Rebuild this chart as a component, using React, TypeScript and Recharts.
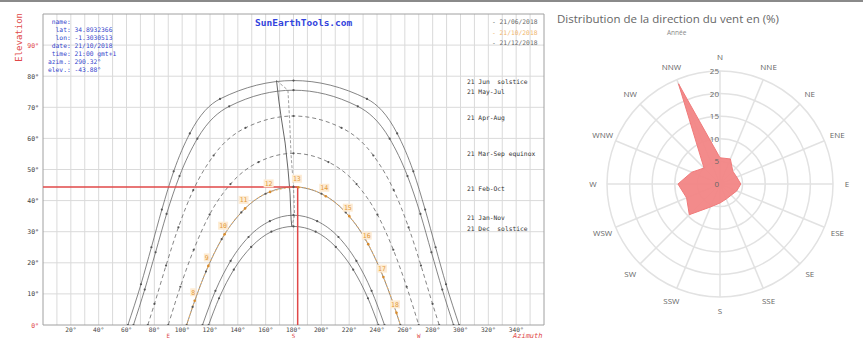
import React from 'react';
import {
  LineChart,
  Line,
  XAxis,
  YAxis,
  CartesianGrid,
  ReferenceLine,
  ReferenceArea,
  RadarChart,
  Radar,
  PolarGrid,
  PolarAngleAxis,
  PolarRadiusAxis,
} from 'recharts';

type Pt = [number, number]; // [azimuth°, elevation°]

// sun paths
const junSolstice: Pt[] = [[61.0, 0], [70.4, 13.1], [77.9, 25.0], [85.4, 37.1], [93.9, 49.4], [105.5, 61.6], [127.2, 72.7], [180, 78.6], [232.8, 72.7], [254.5, 61.6], [266.1, 49.4], [274.6, 37.1], [282.1, 25.0], [289.6, 13.1], [299.0, 0]];
const mayJul: Pt[] = [[65.0, 0], [73.1, 11.4], [80.9, 23.4], [88.8, 35.7], [98.1, 47.9], [110.9, 59.9], [133.8, 70.3], [180, 75.5], [226.2, 70.3], [249.1, 59.9], [261.9, 47.9], [271.2, 35.7], [279.1, 23.4], [286.9, 11.4], [295.0, 0]];
const aprAug: Pt[] = [[75.3, 0], [80.1, 6.8], [88.4, 19.1], [97.3, 31.4], [108.0, 43.4], [122.6, 54.5], [145.5, 63.4], [180, 67.2], [214.5, 63.4], [237.4, 54.5], [252.0, 43.4], [262.7, 31.4], [271.6, 19.1], [279.9, 6.8], [284.7, 0]];
const marSep: Pt[] = [[90, 0], [98.7, 12.3], [108.3, 24.2], [119.7, 35.5], [134.7, 45.3], [154.9, 52.4], [180, 55.2], [205.1, 52.4], [225.3, 45.3], [240.3, 35.5], [251.7, 24.2], [261.3, 12.3], [270, 0]];
const febOct: Pt[] = [[103.2, 0], [107.5, 5.8], [117.1, 17.2], [128.4, 27.6], [142.5, 36.2], [159.9, 42.2], [180, 44.4], [200.1, 42.2], [217.5, 36.2], [231.6, 27.6], [242.9, 17.2], [252.5, 5.8], [256.8, 0]];
const janNov: Pt[] = [[114.6, 0], [123.9, 11.0], [134.8, 20.6], [147.7, 28.3], [163.0, 33.4], [180, 35.3], [197.0, 33.4], [212.3, 28.3], [225.2, 20.6], [236.1, 11.0], [245.4, 0]];
const decSolstice: Pt[] = [[119.0, 0], [126.5, 8.6], [137.1, 17.8], [149.6, 25.1], [164.1, 30.0], [180, 31.7], [195.9, 30.0], [210.4, 25.1], [222.9, 17.8], [233.5, 8.6], [241.0, 0]];

// hour line (analemma loop) near midday
const hourLineA: Pt[] = [[167.8, 78.6], [169.5, 72.0], [171.1, 66.9], [174.0, 58.5], [176.1, 49.8], [177.5, 42.4], [178.3, 33.8], [178.8, 31.7]];
const hourLineB: Pt[] = [[167.8, 78.6], [176.0, 75.5], [177.2, 66.0], [178.2, 55.0], [180.0, 44.4], [180.8, 35.3], [178.8, 31.7]];

// selected day, with clock hours
const todayPath: Pt[] = [[103.2, 0], [109.0, 7.8], [118.8, 19.0], [130.5, 29.2], [145.2, 37.5], [163.2, 42.8], [183.5, 44.3], [203.2, 41.4], [220.1, 35.0], [233.7, 26.0], [244.6, 15.4], [254.0, 3.9], [256.8, 0]];
const todayHours = [null, 8, 9, 10, 11, 12, 13, 14, 15, 16, 17, 18, null];
const sunMarker = { az: 183, el: 44.4 };

const azTicks = [20, 40, 60, 80, 90, 100, 120, 140, 160, 180, 200, 220, 240, 260, 270, 280, 300, 320, 340];
const compass: Record<number, string> = { 90: 'E', 180: 'S', 270: 'W' };
const elTicks = [0, 10, 20, 30, 40, 50, 60, 70, 80, 90];
const gridAz = [10, 20, 30, 40, 50, 60, 70, 80, 90, 100, 110, 120, 130, 140, 150, 160, 170, 180, 190, 200, 210, 220, 230, 240, 250, 260, 270, 280, 290, 300, 310, 320, 330, 340, 350];
const gridEl = [10, 20, 30, 40, 50, 60, 70, 80, 90];

const dateLabels = ['21 Jun  solstice', '21 May-Jul', '21 Apr-Aug', '21 Mar-Sep equinox', '21 Feb-Oct', '21 Jan-Nov', '21 Dec  solstice'];
const dateLabelTop = [78, 88, 114, 150, 185, 214, 225];
const legendDates = ['- 21/06/2018', '- 21/10/2018', '- 21/12/2018'];
const infoLines = [' name:', '  lat: 34.8932366', '  lon: -1.3030513', ' date: 21/10/2018', ' time: 21:00 gmt+1', 'azim.: 290.32°', 'elev.: -43.88°'];

// wind rose
const windDirs = ['N', 'NNE', 'NE', 'ENE', 'E', 'ESE', 'SE', 'SSE', 'S', 'SSW', 'SW', 'WSW', 'W', 'WNW', 'NW', 'NNW'];
const windShare = [5.8, 6.0, 4.0, 4.0, 4.6, 4.0, 3.5, 3.6, 4.2, 5.5, 9.6, 8.0, 9.3, 6.8, 5.0, 24.0];

const rows = (pts: Pt[]) => pts.map(([az, el]) => ({ az, el }));
const windRows = windDirs.map((dir, i) => ({ dir, pct: windShare[i] }));
const todayRows = todayPath.map(([az, el], i) => ({ az, el, h: todayHours[i] }));

const mono = '"DejaVu Sans Mono", monospace';
const RED = '#e04848';
const ROSE_CX = 150;
const ROSE_CY = 144;

function PathDot(props: any) {
  const { cx, cy, index } = props;
  if (cx == null || cy == null) return <g key={index} />;
  return <circle key={index} cx={cx} cy={cy} r={1.1} fill="#555" />;
}

function HourDot(props: any) {
  const { cx, cy, index, payload } = props;
  if (cx == null || payload?.h == null) return <g key={index} />;
  const w = payload.h >= 10 ? 10 : 6;
  return (
    <g key={index}>
      <rect x={cx - 1.5 - w / 2} y={cy - 12.5} width={w} height={8} fill="#fdebd3" />
      <text x={cx - 1.5} y={cy - 6.2} fontSize={6.5} fontFamily={mono} fill="#e39a3a" textAnchor="middle">
        {payload.h}
      </text>
      <circle cx={cx} cy={cy} r={1.3} fill="#d98b2b" />
    </g>
  );
}

function AzTick({ x, y, payload }: any) {
  const v = payload.value;
  return (
    <g>
      {v % 20 === 0 && (
        <text x={x} y={y + 6.8} fontSize={6.2} fontFamily={mono} fill="#444" textAnchor="middle">{`${v}°`}</text>
      )}
      {compass[v] && (
        <text x={x} y={y + 12.6} fontSize={5.8} fontFamily={mono} fill={RED} textAnchor="middle">{compass[v]}</text>
      )}
    </g>
  );
}

function ElTick({ x, y, payload }: any) {
  const v = payload.value;
  return (
    <text x={x - 4} y={y + 2.5} fontSize={6.5} fontFamily={mono} fill={v === 0 || v === 90 ? RED : '#444'} textAnchor="end">
      {`${v}°`}
    </text>
  );
}

function DirTick({ x, y, payload }: any) {
  const a = Math.atan2(y - ROSE_CY, x - ROSE_CX);
  const R = 127;
  return (
    <text
      x={ROSE_CX + R * Math.cos(a)}
      y={ROSE_CY + R * Math.sin(a) + 3}
      fontSize={8}
      fontFamily='"Open Sans", sans-serif'
      fill="#666"
      textAnchor="middle"
    >
      {payload.value}
    </text>
  );
}

function RingTick({ x, y, payload }: any) {
  return (
    <text x={x - 1} y={y + 3} fontSize={8} fontFamily='"Open Sans", sans-serif' fill="#666" textAnchor="end">
      {payload.value}
    </text>
  );
}

const blackPaths = [
  { key: 'jun', pts: junSolstice, dash: undefined },
  { key: 'may', pts: mayJul, dash: undefined },
  { key: 'apr', pts: aprAug, dash: '4 3' },
  { key: 'mar', pts: marSep, dash: '4 3' },
  { key: 'feb', pts: febOct, dash: undefined },
  { key: 'jan', pts: janNov, dash: undefined },
  { key: 'dec', pts: decSolstice, dash: undefined },
];

export default function App() {
  return (
    <div style={{ position: 'absolute', left: 0, top: 0, width: 863, height: 340, background: '#fff', overflow: 'hidden' }}>
      <div style={{ position: 'absolute', left: 0, top: 0, width: 863, height: 2, background: '#8a8a8a' }} />

      <div style={{ position: 'absolute', left: 0, top: 0 }}>
        <LineChart width={560} height={340} margin={{ top: 14, right: 16, bottom: 0, left: 8 }}>
          <CartesianGrid stroke="#dadada" verticalValues={gridAz} horizontalValues={gridEl} />
          <XAxis
            type="number"
            dataKey="az"
            domain={[0, 360]}
            ticks={azTicks}
            tick={<AzTick />}
            tickSize={0}
            tickMargin={0}
            axisLine={false}
            tickLine={false}
            height={15}
            interval={0}
            allowDataOverflow
          />
          <YAxis
            type="number"
            dataKey="el"
            domain={[0, 100]}
            ticks={elTicks}
            tick={<ElTick />}
            tickSize={0}
            tickMargin={0}
            axisLine={false}
            tickLine={false}
            width={35}
            interval={0}
            allowDataOverflow
          />
          <ReferenceArea x1={0} x2={360} y1={0} y2={100} fill="none" stroke="#a0a0a0" strokeWidth={1} ifOverflow="extendDomain" />
          {blackPaths.map((p) => (
            <Line
              key={p.key}
              data={rows(p.pts)}
              dataKey="el"
              type="monotone"
              stroke="#666"
              strokeWidth={0.8}
              strokeDasharray={p.dash}
              dot={<PathDot />}
              activeDot={false}
              isAnimationActive={false}
            />
          ))}
          <Line data={rows(hourLineA)} dataKey="el" type="linear" stroke="#555" strokeWidth={0.9} dot={false} activeDot={false} isAnimationActive={false} />
          <Line data={rows(hourLineB)} dataKey="el" type="linear" stroke="#777" strokeWidth={0.7} strokeDasharray="3 2" dot={false} activeDot={false} isAnimationActive={false} />
          <Line
            data={todayRows}
            dataKey="el"
            type="monotone"
            stroke="#f2b464"
            strokeWidth={1}
            strokeDasharray="2 2"
            dot={<HourDot />}
            activeDot={false}
            isAnimationActive={false}
          />
          <ReferenceLine segment={[{ x: 0, y: sunMarker.el }, { x: sunMarker.az, y: sunMarker.el }]} stroke={RED} strokeWidth={1.5} />
          <ReferenceLine segment={[{ x: sunMarker.az, y: 0 }, { x: sunMarker.az, y: sunMarker.el }]} stroke={RED} strokeWidth={1.5} />
        </LineChart>
      </div>

      <div
        style={{
          position: 'absolute', left: 14, top: 13, fontFamily: mono, fontSize: 9, color: RED,
          transform: 'rotate(-90deg)', transformOrigin: 'left top', width: 52, textAlign: 'right',
          whiteSpace: 'nowrap', marginTop: 52,
        }}
      >
        Elevation
      </div>
      <div style={{ position: 'absolute', left: 513, top: 333, fontFamily: mono, fontSize: 7, lineHeight: '7px', color: RED, fontStyle: 'italic' }}>Azimuth</div>

      <pre style={{ position: 'absolute', left: 48, top: 18, margin: 0, fontFamily: mono, fontSize: 6.3, lineHeight: '8px', color: '#3344cc' }}>
        {infoLines.join('\n')}
      </pre>
      <div style={{ position: 'absolute', left: 255, top: 17, fontFamily: mono, fontSize: 9.5, fontWeight: 'bold', color: '#3344dd' }}>
        SunEarthTools.com
      </div>
      {legendDates.map((d, i) => (
        <div
          key={d}
          style={{ position: 'absolute', left: 492, top: 18 + i * 10.5, fontFamily: mono, fontSize: 6.3, color: i === 1 ? '#f0b46a' : '#666' }}
        >
          {d}
        </div>
      ))}
      {dateLabels.map((d, i) => (
        <div
          key={d}
          style={{ position: 'absolute', left: 467, top: dateLabelTop[i], fontFamily: mono, fontSize: 6.3, color: '#333', whiteSpace: 'pre' }}
        >
          {d}
        </div>
      ))}

      <div style={{ position: 'absolute', left: 557, top: 11, fontFamily: '"Open Sans", sans-serif', fontSize: 11.5, color: '#666', whiteSpace: 'nowrap' }}>
        Distribution de la direction du vent en (%)
      </div>
      <div style={{ position: 'absolute', left: 667, top: 28, fontFamily: '"Open Sans", sans-serif', fontSize: 6.5, color: '#888' }}>Année</div>

      <div style={{ position: 'absolute', left: 570, top: 40 }}>
        <RadarChart width={300} height={290} cx={ROSE_CX} cy={ROSE_CY} outerRadius={113} data={windRows}>
          <PolarGrid gridType="circle" stroke="#e2e2e2" strokeWidth={1.5} />
          <PolarAngleAxis dataKey="dir" tick={<DirTick />} tickLine={false} axisLine={false} />
          <PolarRadiusAxis angle={90} domain={[0, 25]} tickCount={6} tick={<RingTick />} axisLine={false} tickLine={false} />
          <Radar dataKey="pct" fill="#f28585" fillOpacity={0.95} stroke="#f07b7b" strokeWidth={1} isAnimationActive={false} />
        </RadarChart>
      </div>
    </div>
  );
}
